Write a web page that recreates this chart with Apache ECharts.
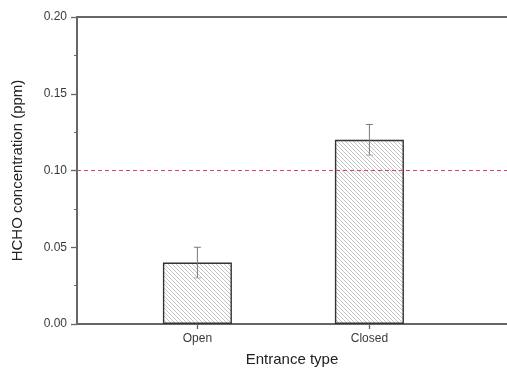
<!DOCTYPE html>
<html><head><meta charset="utf-8">
<script src="https://cdn.jsdelivr.net/npm/echarts@6/dist/echarts.min.js"></script>
<style>html,body{margin:0;padding:0;background:#fff}#c{width:507px;height:369px}</style>
</head><body><div id="c"></div>
<script>
const categories = ['Open', 'Closed'];
const categoryPos = [1, 2];
const values = [0.04, 0.12];
const errors = [0.01, 0.01];
const limitValue = 0.10;

// hatch pattern
const tile = document.createElement('canvas');
tile.width = 4; tile.height = 4;
const tc = tile.getContext('2d');
tc.fillStyle = '#fff'; tc.fillRect(0,0,4,4);
tc.strokeStyle = '#bcbcbc'; tc.lineWidth = 0.9;
tc.beginPath();
tc.moveTo(-1,-1); tc.lineTo(5,5);
tc.moveTo(-1,3); tc.lineTo(1,5);
tc.moveTo(3,-1); tc.lineTo(5,1);
tc.stroke();

const chart = echarts.init(document.getElementById('c'));
const axisColor = '#666';
const font = 'Liberation Sans, Arial, sans-serif';
chart.setOption({
  animation: false,
  grid: {left: 77, right: 0, top: 17, bottom: 45, containLabel: false, outerBoundsMode: 'none'},
  xAxis: [{
    type: 'value', min: 0.3, max: 2.8,
    axisLine: {show: true, lineStyle: {color: axisColor, width: 2}},
    axisTick: {show: true, inside: false, length: 5, customValues: categoryPos, lineStyle: {color: axisColor, width: 1.3}},
    axisLabel: {customValues: categoryPos, formatter: v => categories[categoryPos.indexOf(Math.round(v))] || '', color: '#3a3a3a', fontSize: 12, fontFamily: font, margin: 9},
    splitLine: {show: false},
    name: 'Entrance type', nameLocation: 'middle', nameGap: 28,
    nameTextStyle: {color: '#222', fontSize: 15, fontFamily: font}
  }, {
    type: 'value', position: 'top', min: 0.3, max: 2.8,
    axisLine: {show: true, lineStyle: {color: axisColor, width: 2}},
    axisTick: {show: false}, axisLabel: {show: false}, splitLine: {show: false}
  }],
  yAxis: {
    type: 'value', min: 0, max: 0.2, interval: 0.05,
    axisLine: {show: true, lineStyle: {color: axisColor, width: 2}},
    axisTick: {show: true, inside: false, length: 6, lineStyle: {color: axisColor, width: 1.3}},
    minorTick: {show: true, splitNumber: 2, length: 3, lineStyle: {color: axisColor, width: 1}},
    axisLabel: {formatter: v => v.toFixed(2), color: '#3a3a3a', fontSize: 12, fontFamily: font, margin: 10},
    splitLine: {show: false},
    name: 'HCHO concentration (ppm)', nameLocation: 'middle', nameGap: 52, nameRotate: 90,
    nameTextStyle: {color: '#222', fontSize: 15, fontFamily: font}
  },
  series: [{
    type: 'bar',
    data: categoryPos.map((p, i) => [p, values[i]]),
    barWidth: 69,
    itemStyle: {color: {image: tile, repeat: 'repeat'}, borderColor: '#333', borderWidth: 1.4},
    markLine: {
      silent: true, symbol: 'none', label: {show: false},
      lineStyle: {color: '#a85a68', type: [4, 3], width: 1.2, opacity: 1},
      data: [{yAxis: limitValue}]
    },
    z: 2
  }, {
    type: 'custom',
    data: categoryPos.map((p, i) => [p, values[i] - errors[i], values[i] + errors[i]]),
    renderItem: (params, api) => {
      const x = api.value(0);
      const lo = api.coord([x, api.value(1)]);
      const hi = api.coord([x, api.value(2)]);
      const cw = 3.5;
      const st = {stroke: '#7a7a7a', lineWidth: 1};
      return {type: 'group', children: [
        {type: 'line', shape: {x1: lo[0], y1: lo[1], x2: hi[0], y2: hi[1]}, style: st},
        {type: 'line', shape: {x1: hi[0]-cw, y1: hi[1], x2: hi[0]+cw, y2: hi[1]}, style: st},
        {type: 'line', shape: {x1: lo[0]-cw, y1: lo[1], x2: lo[0]+cw, y2: lo[1]}, style: {stroke: '#9a9a9a', lineWidth: 0.8}}
      ]};
    },
    z: 5
  }]
});
</script></body></html>
